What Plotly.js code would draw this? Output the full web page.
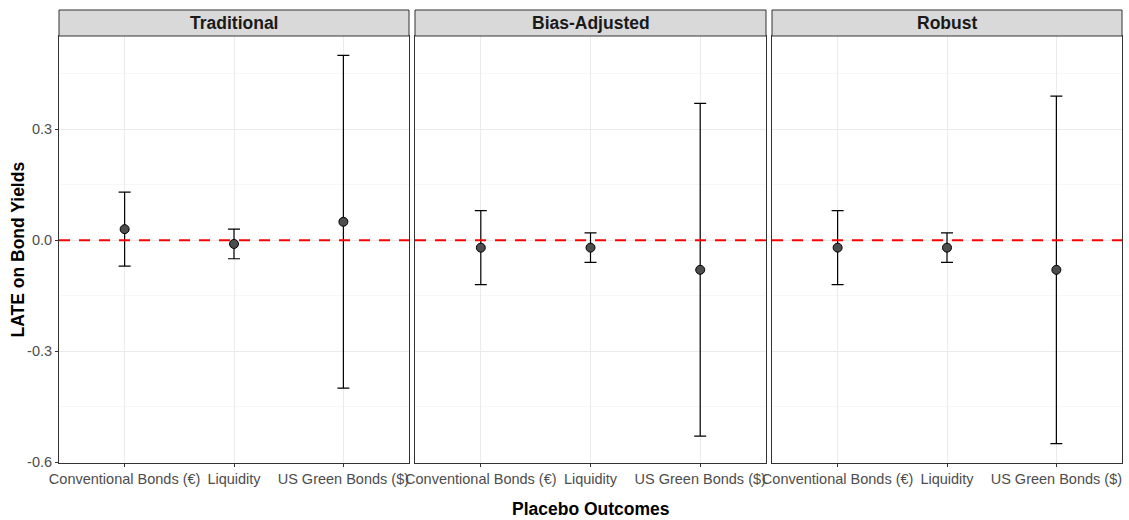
<!DOCTYPE html>
<html>
<head>
<meta charset="utf-8">
<script src="https://cdn.plot.ly/plotly-3.0.1.min.js"></script>
<style>html,body{margin:0;padding:0;background:#fff;}#chart{width:1129px;height:520px;}</style>
</head>
<body>
<div id="chart"></div>
<script>
const categories = ["Conventional Bonds (€)", "Liquidity", "US Green Bonds ($)"];
const methods = ["Traditional", "Bias-Adjusted", "Robust"];

const traditionalEst   = [0.03, -0.01, 0.05];
const traditionalLower = [-0.07, -0.05, -0.40];
const traditionalUpper = [0.13, 0.03, 0.50];

const biasEst   = [-0.02, -0.02, -0.08];
const biasLower = [-0.12, -0.06, -0.53];
const biasUpper = [0.08, 0.02, 0.37];

const robustEst   = [-0.02, -0.02, -0.08];
const robustLower = [-0.12, -0.06, -0.55];
const robustUpper = [0.08, 0.02, 0.39];

const yTicks = [-0.6, -0.3, 0.0, 0.3];
const yTickText = ["-0.6", "-0.3", "0.0", "0.3"];

const W = 1129, H = 520;
const panels = [[59, 409], [415, 766], [772, 1122]];
const plotTop = 36, plotBottom = 463, stripTop = 10;
const yDom = [1 - plotBottom / H, 1 - plotTop / H];
const FONT = "Liberation Sans, Arial, sans-serif";

const ests = [traditionalEst, biasEst, robustEst];
const lows = [traditionalLower, biasLower, robustLower];
const ups = [traditionalUpper, biasUpper, robustUpper];

const traces = [];
const layout = {
  width: W, height: H,
  margin: {l: 0, r: 0, t: 0, b: 0},
  paper_bgcolor: "#fff", plot_bgcolor: "#fff",
  showlegend: false,
  font: {family: FONT, color: "#4d4d4d", size: 14.5},
  shapes: [], annotations: []
};

methods.forEach((m, i) => {
  const sfx = i === 0 ? "" : String(i + 1);
  const est = ests[i];
  traces.push({
    type: "scatter", mode: "markers",
    x: categories, y: est,
    xaxis: "x" + sfx, yaxis: "y" + sfx,
    marker: {size: 9, color: "#4d4d4d", line: {color: "#000", width: 1}},
    error_y: {
      type: "data", symmetric: false,
      array: est.map((v, k) => ups[i][k] - v),
      arrayminus: est.map((v, k) => v - lows[i][k]),
      color: "#000", thickness: 1.2, width: 6
    },
    hoverinfo: "x+y"
  });
  const d = [panels[i][0] / W, panels[i][1] / W];
  layout["xaxis" + sfx] = {
    domain: d, anchor: "y" + sfx,
    type: "category", range: [-0.6, 2.6],
    showline: true, mirror: true, linecolor: "#333", linewidth: 1,
    ticks: "outside", ticklen: 3, tickcolor: "#333", tickwidth: 1,
    showgrid: true, gridcolor: "#ebebeb", gridwidth: 1,
    zeroline: false,
    tickfont: {size: 14.5, color: "#4d4d4d", family: FONT},
    fixedrange: true
  };
  layout["yaxis" + sfx] = {
    domain: yDom, anchor: "x" + sfx,
    range: [-0.6025, 0.5525],
    tickvals: yTicks, ticktext: yTickText,
    showticklabels: i === 0,
    ticks: i === 0 ? "outside" : "", ticklen: 3, tickcolor: "#333", tickwidth: 1,
    showline: true, mirror: true, linecolor: "#333", linewidth: 1,
    showgrid: true, gridcolor: "#ebebeb", gridwidth: 1,
    minor: {dtick: 0.15, tick0: 0.15, showgrid: true, gridcolor: "#f2f2f2", gridwidth: 0.6},
    zeroline: false,
    tickfont: {size: 14.5, color: "#4d4d4d", family: FONT},
    fixedrange: true
  };
  if (i > 0) layout["yaxis" + sfx].matches = "y";
  // zero reference line
  layout.shapes.push({
    type: "line", xref: "x" + sfx + " domain", yref: "y" + sfx,
    x0: 0, x1: 1, y0: 0, y1: 0,
    line: {color: "#ff0000", width: 1.8, dash: "11px,9px"}, layer: "above"
  });
  // strip
  layout.shapes.push({
    type: "rect", xref: "paper", yref: "paper",
    x0: d[0], x1: d[1], y0: 1 - plotTop / H, y1: 1 - stripTop / H,
    fillcolor: "#d9d9d9", line: {color: "#333", width: 1}, layer: "above"
  });
  layout.annotations.push({
    xref: "paper", yref: "paper", x: (d[0] + d[1]) / 2, y: 1 - (plotTop + stripTop) / 2 / H,
    xanchor: "center", yanchor: "middle", showarrow: false,
    text: "<b>" + m + "</b>",
    font: {size: 17.5, color: "#1a1a1a", family: FONT}
  });
});

layout.annotations.push({
  xref: "paper", yref: "paper", x: ((panels[0][0] + panels[2][1]) / 2) / W, y: 1 - 509 / H,
  xanchor: "center", yanchor: "middle", showarrow: false,
  text: "<b>Placebo Outcomes</b>",
  font: {size: 17.5, color: "#000", family: FONT}
});
layout.annotations.push({
  xref: "paper", yref: "paper", x: 17 / W, y: 1 - ((plotTop + plotBottom) / 2) / H,
  xanchor: "center", yanchor: "middle", showarrow: false, textangle: -90,
  text: "<b>LATE on Bond Yields</b>",
  font: {size: 17.5, color: "#000", family: FONT}
});

Plotly.newPlot("chart", traces, layout, {displayModeBar: false, staticPlot: true});
</script>
</body>
</html>
